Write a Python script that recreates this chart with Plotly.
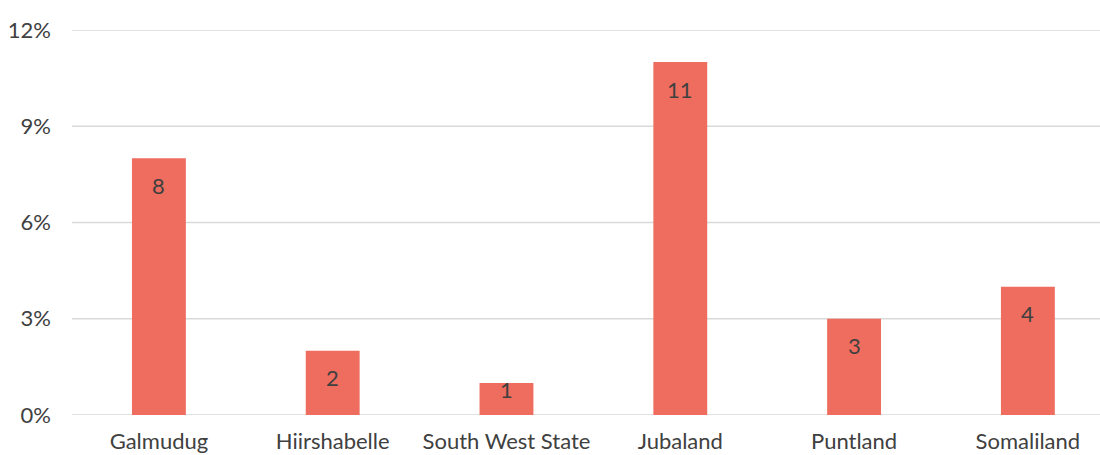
import plotly.graph_objects as go

regions = ["Galmudug", "Hiirshabelle", "South West State", "Jubaland", "Puntland", "Somaliland"]
shares = [8, 2, 1, 11, 3, 4]
y_ticks = [0, 3, 6, 9, 12]
y_tick_text = ["0%", "3%", "6%", "9%", "12%"]

FONT = "Lato"
TEXT_COLOR = "#404040"
BAR_COLOR = "#EE6D5F"
GRID_COLOR = "#D9D9D9"
SIZE = 22

fig = go.Figure(
    go.Bar(
        x=regions,
        y=shares,
        marker=dict(color=BAR_COLOR, line=dict(width=0)),
        width=0.31,
        hoverinfo="skip",
    )
)

# value labels sit inside the top of each bar; short bars keep them near the top edge
for name, v in zip(regions, shares):
    shift = -27 if v >= 2 else -7
    fig.add_annotation(
        x=name, y=v, text=str(v), showarrow=False,
        yanchor="middle", yshift=shift,
        font=dict(family=FONT, size=SIZE, color=TEXT_COLOR),
    )

# horizontal gridlines across the full plot width, behind the bars
for t in y_ticks:
    fig.add_shape(
        type="line", xref="paper", yref="y", x0=0, x1=1, y0=t, y1=t,
        line=dict(color=GRID_COLOR, width=1.7), layer="below",
    )

fig.update_layout(
    width=1100, height=455,
    margin=dict(l=72, r=0, t=29.5, b=39.5),
    paper_bgcolor="white", plot_bgcolor="white",
    showlegend=False,
    font=dict(family=FONT, size=SIZE, color=TEXT_COLOR),
)
fig.update_xaxes(
    type="category",
    range=[-0.5, 5.415],
    showgrid=False, showline=False, zeroline=False, automargin=False,
    ticks="", ticklabelstandoff=11,
    tickfont=dict(family=FONT, size=SIZE, color=TEXT_COLOR),
)
fig.update_yaxes(
    range=[0, 12],
    tickvals=y_ticks, ticktext=y_tick_text,
    showgrid=False, zeroline=False, showline=False, automargin=False,
    ticks="", ticklabelstandoff=20,
    tickfont=dict(family=FONT, size=SIZE, color=TEXT_COLOR),
)

fig.write_html("out.html")
